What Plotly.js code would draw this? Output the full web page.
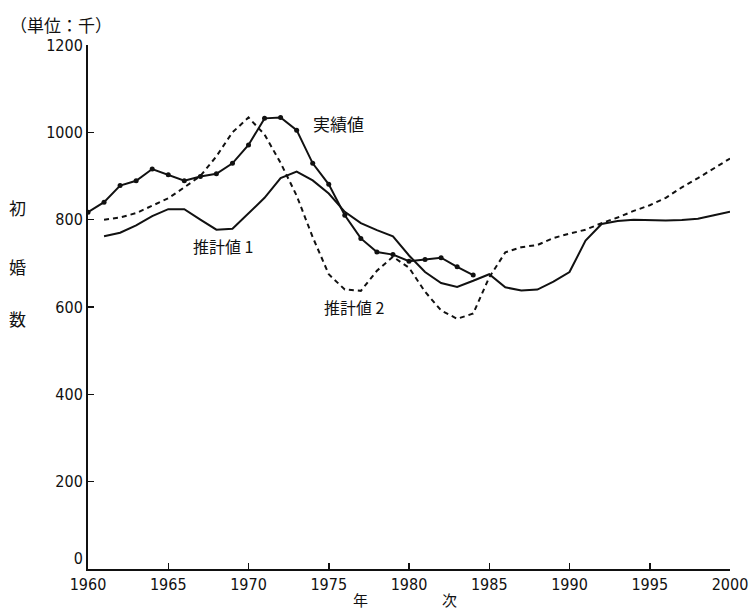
<!DOCTYPE html>
<html>
<head>
<meta charset="utf-8">
<script src="https://cdn.plot.ly/plotly-3.0.1.min.js"></script>
<style>
  html, body { margin: 0; padding: 0; background: #fff; }
  #chart { width: 749px; height: 610px; }
</style>
</head>
<body>
<div id="chart"></div>
<script>
// 初婚数の推移（単位：千）
const actualYears = [1960, 1961, 1962, 1963, 1964, 1965, 1966, 1967, 1968, 1969, 1970, 1971,
  1972, 1973, 1974, 1975, 1976, 1977, 1978, 1979, 1980, 1981, 1982, 1983, 1984];
const actualValues = [817, 840, 878, 889, 916, 903, 889, 899, 905, 929, 971, 1032,
  1034, 1005, 929, 881, 810, 757, 726, 720, 705, 709, 713, 692, 673];

const estYears = [1961, 1962, 1963, 1964, 1965, 1966, 1967, 1968, 1969, 1970, 1971, 1972,
  1973, 1974, 1975, 1976, 1977, 1978, 1979, 1980, 1981, 1982, 1983, 1984, 1985, 1986,
  1987, 1988, 1989, 1990, 1991, 1992, 1993, 1994, 1995, 1996, 1997, 1998, 1999, 2000];

// 推計値1
const est1Values = [762, 770, 787, 808, 824, 824, 800, 777, 779, 815, 850, 895,
  910, 890, 860, 818, 792, 776, 762, 718, 680, 655, 646, 660, 675, 645,
  638, 640, 658, 680, 752, 790, 797, 800, 799, 798, 799, 802, 810, 818];

// 推計値2
const est2Values = [800, 805, 815, 832, 849, 874, 900, 945, 1000, 1034, 995, 930,
  855, 760, 675, 640, 637, 683, 715, 690, 635, 592, 573, 585, 668, 725,
  737, 742, 758, 768, 777, 792, 805, 820, 833, 850, 874, 895, 918, 940];

const xTicks = [1960, 1965, 1970, 1975, 1980, 1985, 1990, 1995, 2000];
const yTicks = [0, 200, 400, 600, 800, 1000, 1200];
// the zero label sits a little above the corner so it clears the year labels
const yTickText = yTicks.map(v => v === 0 ? '0<br>\u00a0' : String(v));

const jpFont = '"Noto Sans CJK JP", "Noto Sans", sans-serif';
const numFont = '"Liberation Sans Narrow", "DejaVu Sans Condensed", "Liberation Sans", sans-serif';

const traces = [
  {
    x: actualYears, y: actualValues, name: '実績値', type: 'scatter', mode: 'lines+markers',
    line: { color: '#111', width: 2 },
    marker: { color: '#111', size: 5 }
  },
  {
    x: estYears, y: est1Values, name: '推計値1', type: 'scatter', mode: 'lines',
    line: { color: '#111', width: 2 }
  },
  {
    x: estYears, y: est2Values, name: '推計値2', type: 'scatter', mode: 'lines',
    line: { color: '#111', width: 2, dash: '5px,4px' }
  }
];

function label(text, x, y, size) {
  return { text: text, x: x, y: y, xref: 'paper', yref: 'paper', showarrow: false,
    xanchor: 'center', yanchor: 'middle',
    font: { family: jpFont, size: size, color: '#111' } };
}

const layout = {
  width: 749, height: 610,
  margin: { l: 88, r: 19, t: 45, b: 41 },
  paper_bgcolor: '#fff', plot_bgcolor: '#fff',
  showlegend: false,
  font: { family: numFont, color: '#111', size: 15 },
  xaxis: {
    range: [1960, 2000], tickvals: xTicks, ticktext: xTicks.map(String),
    showgrid: false, zeroline: false, showline: true, linecolor: '#111', linewidth: 2,
    ticks: 'inside', ticklen: 6, tickwidth: 1.5, tickcolor: '#111',
    ticklabeloverflow: 'allow',
    tickfont: { family: numFont, size: 16, color: '#111' }
  },
  yaxis: {
    range: [0, 1200], tickvals: yTicks, ticktext: yTickText,
    showgrid: false, zeroline: false, showline: true, linecolor: '#111', linewidth: 2,
    ticks: 'inside', ticklen: 6, tickwidth: 1.5, tickcolor: '#111',
    ticklabeloverflow: 'allow',
    tickfont: { family: numFont, size: 16, color: '#111' }
  },
  annotations: [
    { text: '実績値', x: 1975.6, y: 1020, xref: 'x', yref: 'y', showarrow: false,
      font: { family: jpFont, size: 17, color: '#111' } },
    { text: '推計値 1', x: 1968.4, y: 740, xref: 'x', yref: 'y', showarrow: false,
      font: { family: jpFont, size: 16, color: '#111' } },
    { text: '推計値 2', x: 1976.6, y: 600, xref: 'x', yref: 'y', showarrow: false,
      font: { family: jpFont, size: 16, color: '#111' } },
    { text: '（単位：千）', x: -0.125, y: 1.04, xref: 'paper', yref: 'paper',
      xanchor: 'left', yanchor: 'middle', showarrow: false,
      font: { family: jpFont, size: 17, color: '#111' } },
    label('初', -0.11, 0.689, 17),
    label('婚', -0.11, 0.578, 17),
    label('数', -0.11, 0.479, 17),
    label('年', 0.4248, -0.059, 15),
    label('次', 0.5628, -0.059, 15)
  ]
};

Plotly.newPlot('chart', traces, layout, { staticPlot: true, displayModeBar: false });
</script>
</body>
</html>
